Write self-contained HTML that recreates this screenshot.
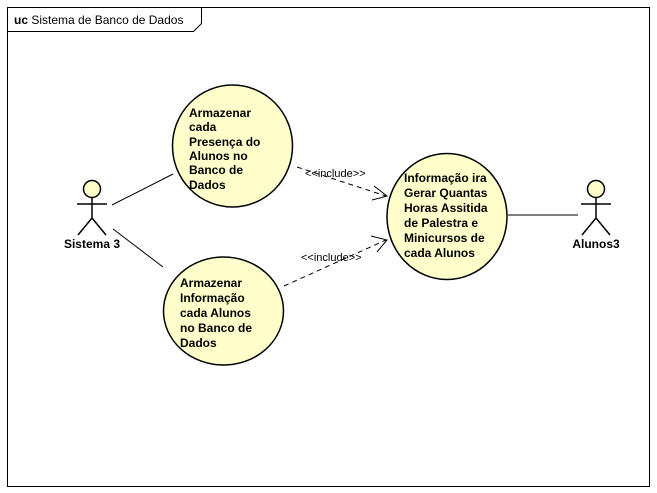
<!DOCTYPE html>
<html><head><meta charset="utf-8"><style>
html,body{margin:0;padding:0;background:#fff;}
svg{display:block;}
text{font-family:"Liberation Sans",sans-serif;}
.b{font-weight:bold;font-size:12px;}
</style></head><body>
<svg width="657" height="493" viewBox="0 0 657 493" xmlns="http://www.w3.org/2000/svg">
<rect x="0" y="0" width="657" height="493" fill="#fff"/>
<rect x="7.5" y="7.5" width="642" height="479" fill="none" stroke="#000" stroke-width="1"/>
<path d="M7.5 31.5 H193.5 L201.5 23.5 V7.5" fill="none" stroke="#000"/>
<text x="14" y="24" font-size="12"><tspan font-weight="bold">uc</tspan> Sistema de Banco de Dados</text>

<g fill="#ffffcc" stroke="#000" stroke-width="1.5">
<ellipse cx="232.5" cy="146" rx="60" ry="61"/>
<ellipse cx="223.5" cy="311" rx="60" ry="54"/>
<ellipse cx="447" cy="216.5" rx="60" ry="63"/>
</g>

<g class="b">
<text x="189" y="117">Armazenar</text>
<text x="189" y="131">cada</text>
<text x="189" y="146">Presença do</text>
<text x="189" y="160">Alunos no</text>
<text x="189" y="174">Banco de</text>
<text x="189" y="189">Dados</text>

<text x="180" y="287">Armazenar</text>
<text x="180" y="302">Informação</text>
<text x="180" y="317">cada Alunos</text>
<text x="180" y="332">no Banco de</text>
<text x="180" y="347">Dados</text>

<text x="404" y="182">Informação ira</text>
<text x="404" y="197">Gerar Quantas</text>
<text x="404" y="212">Horas Assitida</text>
<text x="404" y="227">de Palestra e</text>
<text x="404" y="242">Minicursos de</text>
<text x="404" y="257">cada Alunos</text>
</g>

<g stroke="#000" stroke-width="1" fill="none">
<line x1="112" y1="205" x2="173" y2="174"/>
<line x1="113" y1="229" x2="163" y2="267"/>
<line x1="508" y1="215" x2="578" y2="215"/>
<line x1="297" y1="167" x2="386" y2="196" stroke-dasharray="5,4"/>
<line x1="284" y1="286" x2="386" y2="240" stroke-dasharray="5,4"/>
<path d="M374 186 L387 196 L372 200"/>
<path d="M371 236 L387 240 L377 252"/>
</g>
<text x="305" y="177" font-size="11">&lt;&lt;include&gt;&gt;</text>
<text x="301" y="261" font-size="11">&lt;&lt;include&gt;&gt;</text>

<g stroke="#000" stroke-width="1.5" fill="#ffffcc">
<circle cx="92" cy="189" r="8.5"/>
<circle cx="596" cy="189" r="8.5"/>
</g>
<g stroke="#000" stroke-width="1.5" fill="none">
<path d="M92 198 V218 M77 204 H107 M92 218 L78 235 M92 218 L106 235"/>
<path d="M596 198 V218 M581 204 H611 M596 218 L582 235 M596 218 L610 235"/>
</g>
<text x="92" y="248" class="b" text-anchor="middle">Sistema 3</text>
<text x="596" y="248" class="b" text-anchor="middle">Alunos3</text>
</svg>
</body></html>
